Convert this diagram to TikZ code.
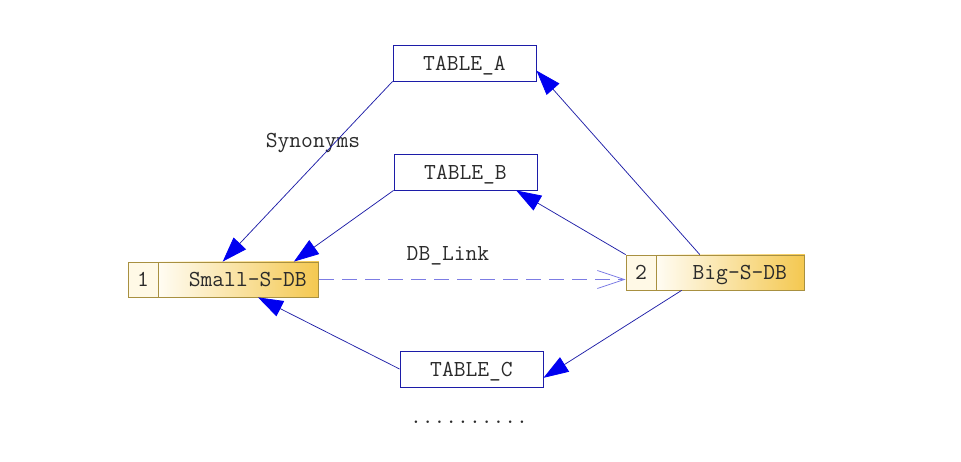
\documentclass[tikz,border=0pt]{standalone}
\usepackage{fontspec}
\usetikzlibrary{positioning,arrows.meta}
\definecolor{boxblue}{HTML}{1C1CA8}
\definecolor{lineblue}{HTML}{2020A8}
\definecolor{headblue}{HTML}{0000F0}
\definecolor{linkblue}{HTML}{7C7CE4}
\definecolor{dbedge}{HTML}{A89040}
\definecolor{dbgold}{HTML}{F4C850}
\definecolor{dbcream}{HTML}{FFF9E6}
\definecolor{txtgray}{HTML}{2A2A2A}

\begin{document}
\begin{tikzpicture}[x=1pt,y=-1pt,
			font=\fontsize{22.9}{26}\selectfont\ttfamily,text=txtgray,text depth=0pt,
			tablebox/.style={draw=boxblue,line width=0.9pt,minimum width=143pt,minimum height=36pt,inner sep=0pt},
			dbnum/.style={draw=dbedge,fill=dbcream,line width=0.8pt,minimum width=30pt,minimum height=35pt,inner sep=0pt},
			dbname/.style={draw=dbedge,line width=0.8pt,left color=dbcream!50!white,right color=dbgold,
				minimum height=35pt,inner sep=0pt,execute at begin node={\hspace*{18pt}}},
			syn/.style={draw=lineblue,line width=0.75pt,-{Triangle[length=25pt,width=17pt,color=headblue]}},
			link/.style={draw=linkblue,line width=0.8pt,dash pattern=on 15pt off 8pt,-{Straight Barb[length=27pt,width=18pt]}}]
			\useasboundingbox (0,0) rectangle (961,462);
			% tables
			\node (taba) [tablebox] at (464.5,63) {TABLE\_A};
			\node (tabb) [tablebox] at (465.5,172) {TABLE\_B};
			\node (tabc) [tablebox] at (471.5,369) {TABLE\_C};
			% databases
			\node (smallnum) [dbnum] at (143,279.5) {1};
			\node (small) [dbname,minimum width=160pt,right=0pt of smallnum] {Small-S-DB};
			\node (bignum) [dbnum] at (641,272.5) {2};
			\node (big) [dbname,minimum width=148pt,right=0pt of bignum] {Big-S-DB};
			% labels
			\node (synlabel) at (313,140) {Synonyms};
			\node (linklabel) at (448,254) {DB\_Link};
			\node (more) at (469,422) {..........};
			% connectors
			\draw[syn] (taba.south west) -- (small.132);
			\draw[syn] (tabb.south west) -- (small.18);
			\draw[syn] (tabc.west) -- (small.-43);
			\draw[syn] (big.150) -- (taba.-6);
			\draw[syn] (bignum.north west) -- (tabb.-20);
			\draw[syn] (big.-160) -- (tabc.-7);
			\draw[link] (small.east) -- (small.east -| bignum.west);
		\end{tikzpicture}
\end{document}
